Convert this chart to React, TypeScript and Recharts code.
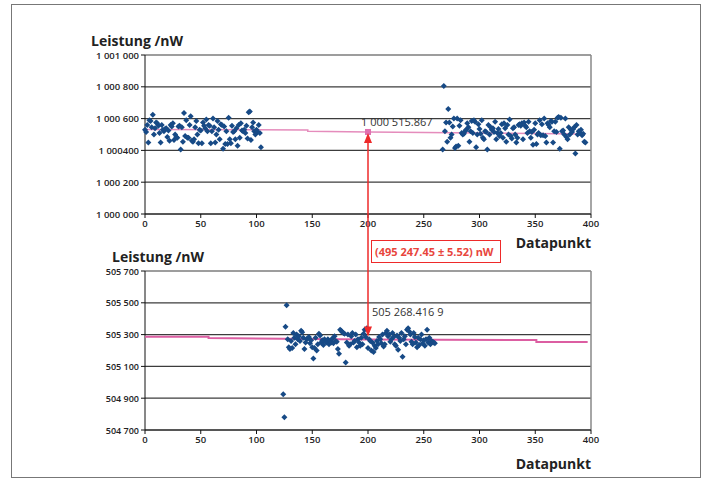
import { CartesianGrid, ReferenceDot, ReferenceLine, Scatter, ScatterChart, XAxis, YAxis } from "recharts";

const X_TICKS = [0, 50, 100, 150, 200, 250, 300, 350, 400];

const TOP_Y_TICKS = [1000000, 1000200, 1000400, 1000600, 1000800, 1001000];
const TOP_Y_LABELS = ["1 000 000", "1 000 200", "1 000400", "1 000 600", "1 000 800", "1 001 000"];
const BOTTOM_Y_TICKS = [504700, 504900, 505100, 505300, 505500, 505700];
const BOTTOM_Y_LABELS = ["504 700", "504 900", "505 100", "505 300", "505 500", "505 700"];

// upper panel, first block of points (Datapunkt 0..104)
const TOP_A_START = 0;
const TOP_A_VALUES = [
  1000530, 1000515, 1000560, 1000450, 1000590, 1000585, 1000545, 1000625, 1000500, 1000540,
  1000575, 1000570, 1000555, 1000510, 1000450, 1000560, 1000530, 1000520, 1000535, 1000540,
  1000485, 1000525, 1000460, 1000560, 1000550, 1000570, 1000465, 1000500, 1000485, 1000480,
  1000550, 1000555, 1000405, 1000545, 1000455, 1000635, 1000490, 1000590, 1000480, 1000480,
  1000560, 1000615, 1000460, 1000455, 1000470, 1000545, 1000585, 1000500, 1000445, 1000530,
  1000525, 1000445, 1000575, 1000555, 1000540, 1000595, 1000520, 1000560, 1000555, 1000445,
  1000520, 1000600, 1000545, 1000450, 1000500, 1000585, 1000530, 1000470, 1000565, 1000560,
  1000410, 1000550, 1000440, 1000520, 1000440, 1000605, 1000470, 1000445, 1000555, 1000515,
  1000520, 1000470, 1000540, 1000430, 1000560, 1000480, 1000570, 1000525, 1000520, 1000530,
  1000510, 1000555, 1000475, 1000640, 1000645, 1000465, 1000545, 1000575, 1000520, 1000500,
  1000530, 1000515, 1000560, 1000510, 1000420,
];

// upper panel, second block of points (Datapunkt 267..395)
const TOP_B_START = 267;
const TOP_B_VALUES = [
  1000405, 1000805, 1000520, 1000575, 1000455, 1000660, 1000575, 1000480, 1000500, 1000550,
  1000600, 1000415, 1000425, 1000600, 1000430, 1000555, 1000590, 1000510, 1000500, 1000505,
  1000520, 1000530, 1000570, 1000545, 1000455, 1000520, 1000585, 1000510, 1000590, 1000580,
  1000420, 1000500, 1000565, 1000535, 1000505, 1000590, 1000480, 1000470, 1000520, 1000515,
  1000405, 1000560, 1000500, 1000545, 1000530, 1000540, 1000515, 1000580, 1000470, 1000510,
  1000535, 1000490, 1000510, 1000565, 1000480, 1000570, 1000540, 1000455, 1000560, 1000500,
  1000595, 1000490, 1000475, 1000540, 1000545, 1000500, 1000450, 1000480, 1000560, 1000565,
  1000555, 1000570, 1000470, 1000575, 1000555, 1000545, 1000510, 1000580, 1000520, 1000480,
  1000515, 1000435, 1000530, 1000570, 1000440, 1000500, 1000510, 1000590, 1000495, 1000565,
  1000495, 1000600, 1000490, 1000450, 1000570, 1000560, 1000545, 1000585, 1000580, 1000450,
  1000520, 1000580, 1000515, 1000605, 1000610, 1000410, 1000605, 1000520, 1000525, 1000500,
  1000600, 1000485, 1000470, 1000545, 1000500, 1000530, 1000515, 1000535, 1000545, 1000380,
  1000560, 1000500, 1000520, 1000510, 1000530, 1000495, 1000505, 1000455, 1000450,
];

// lower panel points (Datapunkt 124..260)
const BOTTOM_START = 124;
const BOTTOM_VALUES = [
  504925, 504780, 505350, 505485, 505270, 505220, 505210, 505260, 505215, 505310,
  505280, 505240, 505300, 505270, 505290, 505260, 505325, 505315, 505280, 505210,
  505250, 505270, 505275, 505285, 505245, 505265, 505220, 505150, 505215, 505280,
  505200, 505240, 505305, 505295, 505250, 505265, 505235, 505270, 505255, 505250,
  505270, 505240, 505260, 505250, 505275, 505245, 505290, 505260, 505255, 505210,
  505180, 505330, 505325, 505315, 505310, 505305, 505125, 505250, 505300, 505230,
  505240, 505290, 505310, 505250, 505260, 505300, 505220, 505270, 505250, 505230,
  505280, 505240, 505305, 505330, 505285, 505340, 505215, 505270, 505260, 505200,
  505250, 505190, 505230, 505215, 505260, 505240, 505285, 505270, 505245, 505300,
  505225, 505240, 505310, 505325, 505290, 505300, 505255, 505270, 505310, 505285,
  505240, 505230, 505295, 505205, 505280, 505260, 505310, 505160, 505270, 505290,
  505240, 505330, 505340, 505320, 505300, 505255, 505240, 505310, 505285, 505250,
  505220, 505280, 505235, 505270, 505300, 505245, 505265, 505230, 505270, 505330,
  505250, 505280, 505240, 505260, 505255, 505250, 505245,
];

// fitted reference lines (pink)
const TOP_FIT_X = [0, 146, 146, 200, 395];
const TOP_FIT_Y = [1000531, 1000529, 1000521, 1000515.867, 1000503];
const BOTTOM_FIT_X = [0, 57, 57, 200, 351, 351, 397];
const BOTTOM_FIT_Y = [505286, 505286, 505278, 505268.4169, 505266, 505253, 505253];

const MARK_X = 200;
const TOP_MARK = 1000515.867;
const BOTTOM_MARK = 505268.4169;
const DIFF_LABEL = "(495 247.45 ± 5.52) nW";

// layout
const W = 709;
const PLOT_LEFT = 145;
const PLOT_RIGHT = 591;
const TOP_PLOT = { top: 55, bottom: 214 };
const BOTTOM_PLOT = { top: 271, bottom: 430 };
const TOP_CHART_H = 240;
const BOTTOM_CHART_TOP = 240;
const BOTTOM_CHART_H = 222;
const Y_AXIS_W = 60;
const X_AXIS_H = 20;

const FONT = "'Open Sans', 'DejaVu Sans', sans-serif";
const DOT = "#174a86";
const PINK = "#dc5ea2";
const RED = "#ee2a2a";

const toPoints = (start: number, vals: number[]) => vals.map((y, i) => ({ x: start + i, y }));
const zipPoints = (xs: number[], ys: number[]) => xs.map((x, i) => ({ x, y: ys[i] }));

const xPx = (v: number) => PLOT_LEFT + (v / 400) * (PLOT_RIGHT - PLOT_LEFT);
const yPx = (v: number, d: number[], p: { top: number; bottom: number }) =>
  p.bottom - ((v - d[0]) / (d[1] - d[0])) * (p.bottom - p.top);

const Diamond = (props: any) => {
  const { cx, cy } = props;
  if (cx == null || cy == null) return <g />;
  const r = 3;
  return <polygon points={`${cx},${cy - r} ${cx + r},${cy} ${cx},${cy + r} ${cx - r},${cy}`} fill={DOT} />;
};

const Nothing = () => <g />;

interface PanelProps {
  top: number;
  height: number;
  plot: { top: number; bottom: number };
  yTicks: number[];
  yLabels: string[];
  yFontSize: number;
  series: { x: number; y: number }[][];
  fit: { x: number; y: number }[];
  fitWidth: number;
  fitColor: string;
  mark: number;
  markShape: (p: any) => any;
}

function Panel(p: PanelProps) {
  const margin = {
    top: p.plot.top - p.top,
    right: W - PLOT_RIGHT,
    left: PLOT_LEFT - Y_AXIS_W,
    bottom: p.height - (p.plot.bottom - p.top) - X_AXIS_H,
  };
  const domain = [p.yTicks[0], p.yTicks[p.yTicks.length - 1]];
  const YTick = (t: any) => (
    <text
      x={t.x}
      y={t.y}
      dy={3.5}
      textAnchor="end"
      fontSize={p.yFontSize}
      fontWeight={600}
      fill="#222"
      fontFamily={FONT}
    >
      {p.yLabels[p.yTicks.indexOf(t.payload.value)]}
    </text>
  );
  return (
    <div style={{ position: "absolute", left: 0, top: p.top }}>
      <ScatterChart width={W} height={p.height} margin={margin}>
        <CartesianGrid vertical={false} stroke="#3c3c3c" strokeWidth={1.2} />
        <XAxis
          type="number"
          dataKey="x"
          domain={[0, 400]}
          ticks={X_TICKS}
          height={X_AXIS_H}
          stroke="#111"
          tickSize={4}
          tick={{ fontSize: 9.5, fill: "#222", fontFamily: FONT, fontWeight: 600 }}
        />
        <YAxis
          type="number"
          dataKey="y"
          domain={domain}
          ticks={p.yTicks}
          width={Y_AXIS_W}
          stroke="#111"
          tickSize={4}
          tickMargin={2}
          interval={0}
          tick={YTick}
        />
        <ReferenceLine x={400} stroke="#888" strokeWidth={1.5} />
        <Scatter
          data={p.fit}
          line={{ stroke: p.fitColor, strokeWidth: p.fitWidth }}
          lineType="joint"
          shape={Nothing}
          isAnimationActive={false}
        />
        {p.series.map((s, i) => (
          <Scatter key={i} data={s} shape={Diamond} isAnimationActive={false} />
        ))}
        <ReferenceDot x={MARK_X} y={p.mark} shape={p.markShape} />
      </ScatterChart>
    </div>
  );
}

export default function App() {
  const topDomain = [TOP_Y_TICKS[0], TOP_Y_TICKS[TOP_Y_TICKS.length - 1]];
  const botDomain = [BOTTOM_Y_TICKS[0], BOTTOM_Y_TICKS[BOTTOM_Y_TICKS.length - 1]];
  const ax = xPx(MARK_X);
  const ay1 = yPx(TOP_MARK, topDomain, TOP_PLOT) + 1;
  const ay2 = yPx(BOTTOM_MARK, botDomain, BOTTOM_PLOT) - 3;

  const titleStyle = {
    position: "absolute" as const,
    fontFamily: FONT,
    fontWeight: 700,
    fontSize: 14,
    color: "#222",
    lineHeight: "15px",
    whiteSpace: "nowrap" as const,
  };

  return (
    <div style={{ position: "absolute", left: 0, top: 0, width: W, height: 479, background: "#fff", fontFamily: FONT }}>
      <Panel
        top={0}
        height={TOP_CHART_H}
        plot={TOP_PLOT}
        yTicks={TOP_Y_TICKS}
        yLabels={TOP_Y_LABELS}
        yFontSize={9.5}
        series={[toPoints(TOP_A_START, TOP_A_VALUES), toPoints(TOP_B_START, TOP_B_VALUES)]}
        fit={zipPoints(TOP_FIT_X, TOP_FIT_Y)}
        fitWidth={1.5}
        fitColor="#e58cbc"
        mark={TOP_MARK}
        markShape={(s: any) => (
          <g>
            <rect x={s.cx - 3} y={s.cy - 3} width={6} height={6} fill="#e070b0" />
            <text x={s.cx - 7} y={s.cy - 6} fontSize={11} fill="#333" fontFamily={FONT}>
              1 000 515.867
            </text>
          </g>
        )}
      />
      <Panel
        top={BOTTOM_CHART_TOP}
        height={BOTTOM_CHART_H}
        plot={BOTTOM_PLOT}
        yTicks={BOTTOM_Y_TICKS}
        yLabels={BOTTOM_Y_LABELS}
        yFontSize={9}
        series={[toPoints(BOTTOM_START, BOTTOM_VALUES)]}
        fit={zipPoints(BOTTOM_FIT_X, BOTTOM_FIT_Y)}
        fitWidth={2}
        fitColor={PINK}
        mark={BOTTOM_MARK}
        markShape={(s: any) => (
          <text x={s.cx + 4} y={s.cy - 24} fontSize={11} fill="#333" fontFamily={FONT}>
            505 268.416 9
          </text>
        )}
      />

      <div style={{ ...titleStyle, left: 91, top: 33 }}>Leistung /nW</div>
      <div style={{ ...titleStyle, left: 112, top: 249 }}>Leistung /nW</div>
      <div style={{ ...titleStyle, right: W - PLOT_RIGHT, top: 235 }}>Datapunkt</div>
      <div style={{ ...titleStyle, right: W - PLOT_RIGHT, top: 456 }}>Datapunkt</div>

      <svg width={W} height={479} style={{ position: "absolute", left: 0, top: 0, pointerEvents: "none" }}>
        <rect x={11.5} y={4.5} width={689} height={473} fill="none" stroke="#777" strokeWidth={1} />
        <line x1={ax} y1={ay1 + 9} x2={ax} y2={ay2 - 9} stroke={RED} strokeWidth={1.5} />
        <polygon points={`${ax},${ay1} ${ax - 4},${ay1 + 10} ${ax + 4},${ay1 + 10}`} fill={RED} />
        <polygon points={`${ax},${ay2} ${ax - 4},${ay2 - 10} ${ax + 4},${ay2 - 10}`} fill={RED} />
        <rect x={371.5} y={240.5} width={129} height={22} fill="#fff" stroke={RED} strokeWidth={1} />
        <text x={375} y={256} fontSize={11} fontWeight={700} fill="#e8453c" fontFamily={FONT}>
          {DIFF_LABEL}
        </text>
      </svg>
    </div>
  );
}
